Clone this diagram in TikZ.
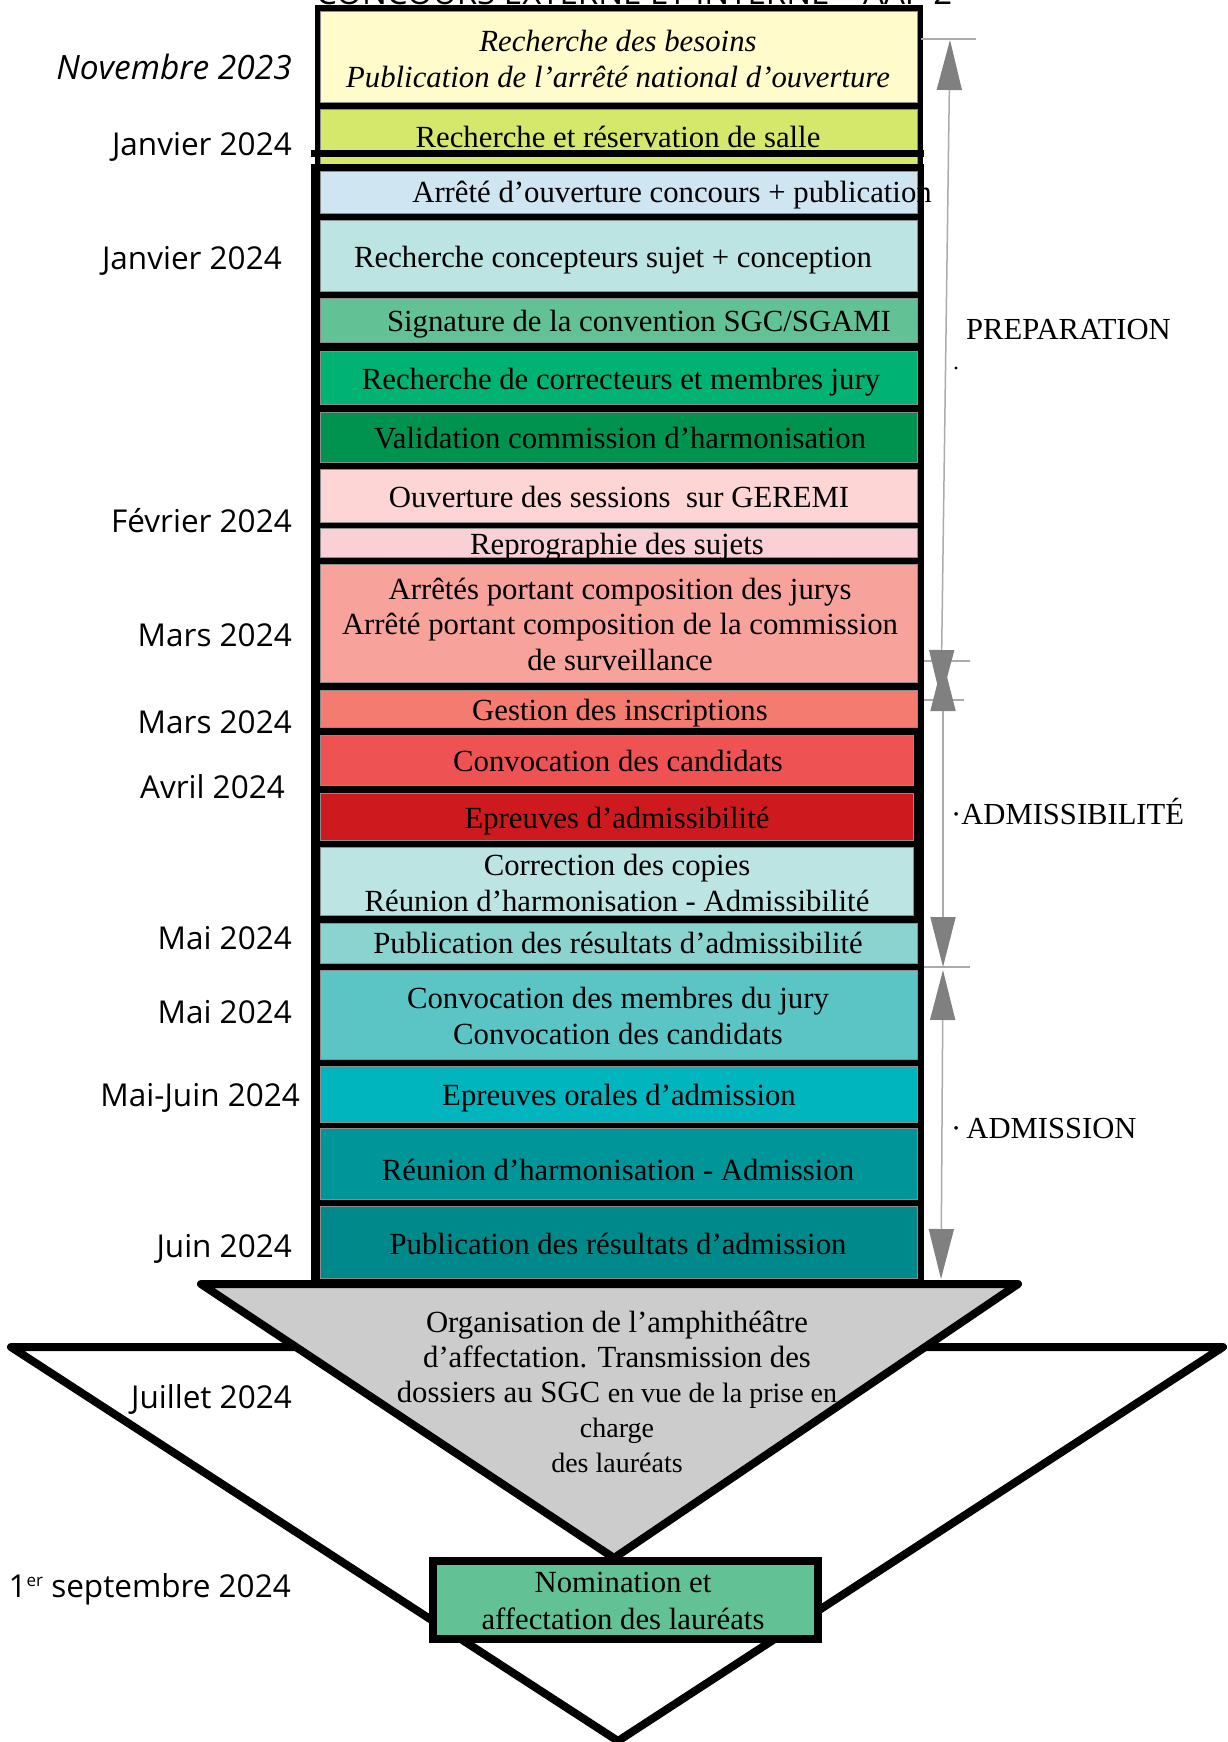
\documentclass[tikz,border=0pt]{standalone}
\usepackage{fontspec}
\setmainfont{Liberation Serif}
\newfontfamily\datefont{Open Sans}
\usetikzlibrary{arrows.meta}
\definecolor{cYel}{HTML}{FFFBCB}
\definecolor{cSal}{HTML}{D5E86B}
\definecolor{cArr}{HTML}{CFE5F2}
\definecolor{cCon}{HTML}{BBE4E3}
\definecolor{cSig}{HTML}{63C295}
\definecolor{cCor}{HTML}{00B274}
\definecolor{cVal}{HTML}{00934F}
\definecolor{cOuv}{HTML}{FCD5D4}
\definecolor{cRep}{HTML}{F8D0D6}
\definecolor{cAtes}{HTML}{F7A29A}
\definecolor{cGes}{HTML}{F37B6F}
\definecolor{cCvc}{HTML}{EF5252}
\definecolor{cEpa}{HTML}{CE1A1F}
\definecolor{cCop}{HTML}{BCE4E3}
\definecolor{cPra}{HTML}{8BD3CF}
\definecolor{cCvm}{HTML}{5BC5C6}
\definecolor{cEor}{HTML}{00B5BD}
\definecolor{cRha}{HTML}{009598}
\definecolor{cPrd}{HTML}{00898A}
\definecolor{cGrey}{HTML}{CCCCCC}
\definecolor{dimline}{HTML}{ABABAB}
\definecolor{dimtip}{HTML}{808080}
\newcommand\bxfnt{\fontsize{30.75}{35.5}\selectfont}
\newcommand\trfnt{\fontsize{30.75}{35}\selectfont}
\newcommand\trsmall{\fontsize{28}{35}\selectfont}
\newcommand\dtfnt{\datefont\fontsize{31.5}{36}\selectfont}
\newcommand\phfnt{\fontsize{30.6}{36}\selectfont}
\begin{document}
\begin{tikzpicture}[x=1pt,y=-1pt,
  fb/.style={draw=black!45, line width=1pt, inner sep=0pt, outer sep=0pt, anchor=north west},
  bt/.style={font=\bxfnt, inner sep=0pt, text height=27pt, text depth=6pt},
  mt/.style={font=\bxfnt, inner sep=0pt, align=center},
  dt/.style={font=\dtfnt, anchor=east, inner sep=0pt, text height=29pt, text depth=6.5pt},
  dimarrow/.style={draw=dimline, line width=1.5pt,
     {Triangle[length=50pt,width=25pt,color=dimtip]}-{Triangle[length=50pt,width=25pt,color=dimtip]}},
  tickline/.style={draw=dimline, line width=1.5pt},
  phase/.style={font=\phfnt, anchor=west, inner sep=0pt},
  thick outline/.style={draw=black, line width=8pt, line join=round}
]
\useasboundingbox (0,0) rectangle (1227,1742);
\clip (0,0) rectangle (1227,1742);

% title (mostly cut off at top, as in the reference)
\node[font=\datefont\fontsize{33}{36}\selectfont, anchor=base west, inner sep=0pt] (title) at (316,5) {CONCOURS EXTERNE ET INTERNE – AAP 2};

% black column backgrounds
\fill[black] (315,5) rectangle (923,168);

% top boxes
\node[fb, fill=cYel, minimum width=597pt, minimum height=91pt] (bYel) at (320,12) {};
\node[fb, fill=cSal, minimum width=597pt, minimum height=54pt] (bSal) at (320,110) {};
\node[font=\bxfnt\itshape, inner sep=0pt, align=center] (tYel) at (618,59) {Recherche des besoins\\Publication de l’arrêté national d’ouverture};
\node[bt] (tSal) at (618,137) {Recherche et réservation de salle};
\fill[black] (311,150) rectangle (924,157);
\fill[black] (311,164) rectangle (924,1286);

% lower boxes
\node[fb, fill=cArr, minimum width=597pt, minimum height=42pt] (bArr) at (320,171) {};
\node[fb, fill=cCon, minimum width=597pt, minimum height=71pt] (bCon) at (320,220) {};
\node[fb, fill=cSig, minimum width=597pt, minimum height=44pt] (bSig) at (320,298) {};
\node[fb, fill=cCor, minimum width=597pt, minimum height=53pt] (bCor) at (320,351) {};
\node[fb, fill=cVal, minimum width=597pt, minimum height=50pt] (bVal) at (320,412) {};
\node[fb, fill=cOuv, minimum width=597pt, minimum height=53pt] (bOuv) at (320,469) {};
\node[fb, fill=cRep, minimum width=597pt, minimum height=29pt] (bRep) at (320,528) {};
\node[fb, fill=cAtes, minimum width=597pt, minimum height=118pt] (bAtes) at (320,564) {};
\node[fb, fill=cGes, minimum width=597pt, minimum height=37pt] (bGes) at (320,690) {};
\node[fb, fill=cCvc, minimum width=593pt, minimum height=50pt] (bCvc) at (320,735) {};
\node[fb, fill=cEpa, minimum width=593pt, minimum height=47pt] (bEpa) at (320,793) {};
\node[fb, fill=cCop, minimum width=593pt, minimum height=68pt] (bCop) at (320,847) {};
\node[fb, fill=cPra, minimum width=597pt, minimum height=40pt] (bPra) at (320,923) {};
\node[fb, fill=cCvm, minimum width=597pt, minimum height=89pt] (bCvm) at (320,970) {};
\node[fb, fill=cEor, minimum width=597pt, minimum height=56pt] (bEor) at (320,1066) {};
\node[fb, fill=cRha, minimum width=597pt, minimum height=71pt] (bRha) at (320,1128) {};
\node[fb, fill=cPrd, minimum width=597pt, minimum height=72pt] (bPrd) at (320,1206) {};

% box texts
\node[bt] (tArr) at (672,192) {Arrêté d’ouverture concours + publication};
\node[bt] (tCon) at (613,257) {Recherche concepteurs sujet + conception};
\node[bt] (tSig) at (639,321) {Signature de la convention SGC/SGAMI};
\node[bt] (tCor) at (621,379) {Recherche de correcteurs et membres jury};
\node[bt] (tVal) at (620,438) {Validation commission d’harmonisation};
\node[bt] (tOuv) at (619,497) {Ouverture des sessions\ \ sur GEREMI};
\begin{scope}
\clip (320,528) rectangle (917,557);
\node[bt] (tRep) at (617,544) {Reprographie des sujets};
\end{scope}
\node[mt] (tAtes) at (620,624) {Arrêtés portant composition des jurys\\Arrêté portant composition de la commission\\de surveillance};
\node[bt] (tGes) at (620,710) {Gestion des inscriptions};
\node[bt] (tCvc) at (618,761) {Convocation des candidats};
\node[bt] (tEpa) at (617,818) {Epreuves d’admissibilité};
\node[mt] (tCop) at (617,883) {Correction des copies\\Réunion d’harmonisation - Admissibilité};
\node[bt] (tPra) at (618,943) {Publication des résultats d’admissibilité};
\node[mt] (tCvm) at (618,1016) {Convocation des membres du jury\\Convocation des candidats};
\node[bt] (tEor) at (619,1095) {Epreuves orales d’admission};
\node[bt] (tRha) at (618,1170) {Réunion d’harmonisation - Admission};
\node[bt] (tPrd) at (618,1244) {Publication des résultats d’admission};

% big white triangle
\draw[thick outline, fill=white] (11,1347) -- (1223,1347) -- (618,1741) -- cycle;
% grey triangle
\draw[thick outline, fill=cGrey] (201,1284) -- (1018,1284) -- (614,1558) -- cycle;
\node[font=\trfnt, inner sep=0pt, align=center] (tOrg) at (617,1392) {Organisation de l’amphithéâtre\\d’affectation. Transmission des\\dossiers au SGC {\trsmall en vue de la prise en}\\{\trsmall charge}\\{\trsmall des lauréats}};
% nomination box
\node[draw=black, line width=8pt, fill=cSig, anchor=north west, minimum width=385pt, minimum height=78pt, inner sep=0pt] (bNom) at (429,1557) {};
\node[font=\fontsize{30.75}{37}\selectfont, inner sep=0pt, align=center] (tNom) at (623,1601) {Nomination et\\affectation des lauréats};

% dimension lines
\coordinate (pA) at (950,40);
\coordinate (pB) at (941,700);
\coordinate (aA) at (943,661);
\coordinate (aB) at (943,967);
\coordinate (dA) at (943,970);
\coordinate (dB) at (941,1279);
\draw[tickline] (921,39) -- (976,39);
\draw[tickline] (924,661) -- (970,661);
\draw[tickline] (924,700) -- (964,700);
\draw[tickline] (924,967) -- (970,967);
\draw[dimarrow] (pA) -- (pB);
\draw[dimarrow] (aA) -- (aB);
\draw[dimarrow] (dA) -- (dB);
\node[phase] (lPrep) at (966,330) {PREPARATION};
\fill[black] (956,368) circle (1.7);
\node[phase] (lAdm) at (951,812) {·ADMISSIBILITÉ};
\node[phase] (lAdn) at (951,1129) {·\,ADMISSION};

% dates
\node[dt, font=\datefont\fontsize{33.5}{36}\selectfont\itshape] (d1) at (292,68) {Novembre 2023};
\node[dt] (d2) at (292,144) {Janvier 2024};
\node[dt] (d3) at (282,258) {Janvier 2024};
\node[dt] (d4) at (292,521) {Février 2024};
\node[dt] (d5) at (292,635) {Mars 2024};
\node[dt] (d6) at (292,722) {Mars 2024};
\node[dt] (d7) at (285,787) {Avril 2024};
\node[dt] (d8) at (292,938) {Mai 2024};
\node[dt] (d9) at (292,1012) {Mai 2024};
\node[dt] (d10) at (300,1095) {Mai-Juin 2024};
\node[dt] (d11) at (292,1246) {Juin 2024};
\node[dt] (d12) at (292,1397) {Juillet 2024};
\node[dt] (d13) at (291,1586) {1\raisebox{11pt}{\fontsize{17}{18}\selectfont er} septembre 2024};
\end{tikzpicture}
\end{document}
